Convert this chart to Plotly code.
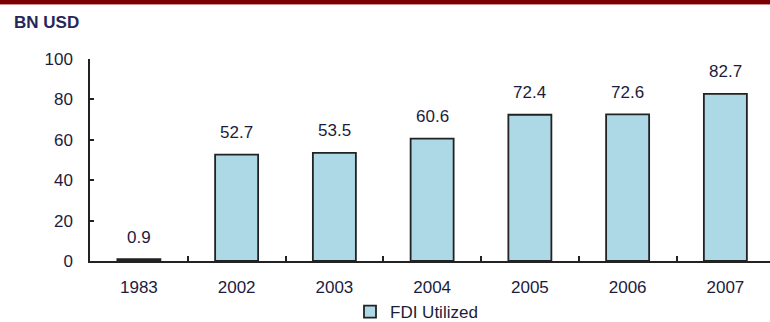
import plotly.graph_objects as go

years = ["1983", "2002", "2003", "2004", "2005", "2006", "2007"]
fdi_utilized = [0.9, 52.7, 53.5, 60.6, 72.4, 72.6, 82.7]
y_ticks = [0, 20, 40, 60, 80, 100]
series_name = "FDI Utilized"
unit_label = "BN USD"

W, H = 770, 322
L, R, T, B = 90, 0, 59, 61
pw, ph = W - L - R, H - T - B
cat_px = 97.75

text_color = "#1c1c3c"
font_family = "Liberation Sans, Arial, sans-serif"
fs = 17

fig = go.Figure()
fig.add_trace(go.Bar(
    x=years, y=fdi_utilized, name=series_name,
    marker=dict(color="#add8e6", line=dict(color="#222222", width=1.8)),
    width=0.44,
))

for i, v in enumerate(fdi_utilized):
    fig.add_annotation(x=i, y=v, text=f"{v}", showarrow=False,
                       xref="x", yref="y",
                       yanchor="middle", yshift=22,
                       font=dict(size=fs, color=text_color, family=font_family))

# unit label
fig.add_annotation(xref="paper", yref="paper", x=(12 - L) / pw, y=1 + (T - 22) / ph,
                   xanchor="left", yanchor="middle", text="<b>" + unit_label + "</b>",
                   showarrow=False, font=dict(size=17, color="#26265a", family=font_family))

# top red rule
fig.add_shape(type="rect", xref="paper", yref="paper",
              x0=-L / pw, x1=1 + 5 / pw, y0=1 + (T - 4) / ph, y1=1 + (T + 2) / ph,
              fillcolor="#7a0000", line=dict(width=0), layer="above")
fig.add_shape(type="rect", xref="paper", yref="paper",
              x0=-L / pw, x1=1 + 5 / pw, y0=1 + (T - 5) / ph, y1=1 + (T - 4) / ph,
              fillcolor="#d09090", line=dict(width=0), layer="above")

fig.update_layout(
    width=W, height=H,
    margin=dict(l=L, r=R, t=T, b=B, autoexpand=False),
    paper_bgcolor="white", plot_bgcolor="white",
    showlegend=True,
    legend=dict(orientation="h", x=350 / W, xanchor="left", xref="container",
                y=1 - 312 / H, yanchor="middle", yref="container",
                font=dict(size=fs, color=text_color, family=font_family),
                bgcolor="rgba(0,0,0,0)"),
    font=dict(family=font_family, color=text_color, size=fs),
    bargap=0.56,
)
fig.update_xaxes(
    type="category", range=[-0.5, -0.5 + pw / cat_px],
    showline=True, linecolor="#222222", linewidth=1.5,
    ticks="inside", ticklen=5, tickcolor="#222222", tickwidth=1.5,
    tickson="boundaries", showgrid=False,
    tickfont=dict(size=fs, color=text_color), ticklabelstandoff=10,
)
fig.update_yaxes(
    range=[0, 100], tickvals=y_ticks,
    showline=True, linecolor="#222222", linewidth=1.5,
    ticks="inside", ticklen=4, tickcolor="#222222", tickwidth=1.5,
    showgrid=False, zeroline=False,
    tickfont=dict(size=fs, color=text_color), ticklabelstandoff=12,
)

fig.write_html("out.html")
